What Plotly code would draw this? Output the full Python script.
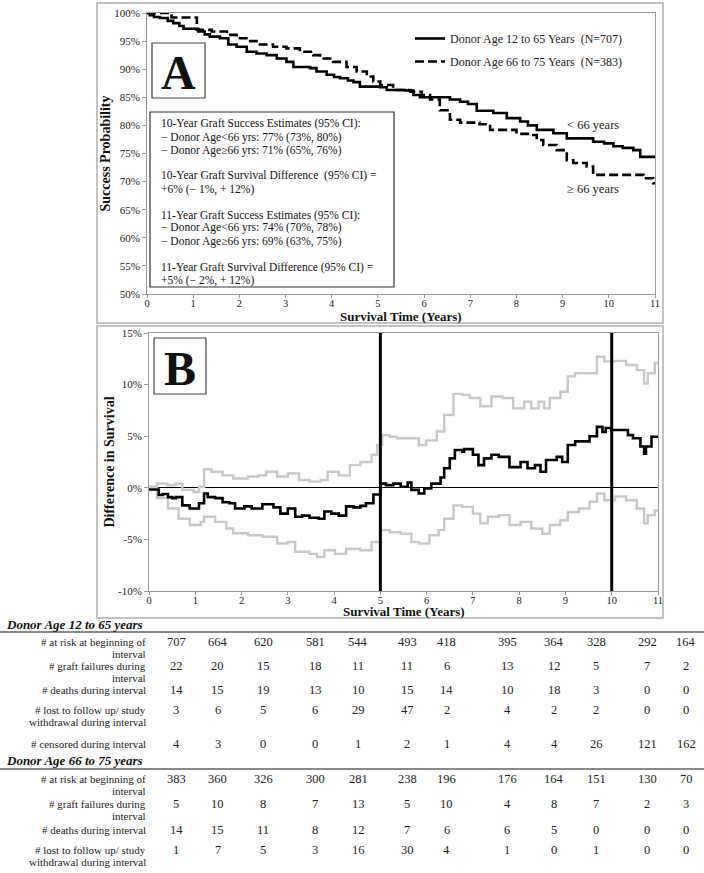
import plotly.graph_objects as go

W, H = 704, 873
SERIF = "Liberation Serif"

# ---------------- Data ----------------
# Panel A: Kaplan-Meier graft success (%), step knots
young_t = [0, 0.06, 0.15, 0.28, 0.45, 0.57, 0.70, 0.79, 1.11, 1.25, 1.36, 1.58, 1.76, 1.94, 2.16,
           2.37, 2.59, 2.81, 3.02, 3.17, 3.53, 3.67, 3.89, 4.05, 4.18, 4.35, 4.47, 4.61, 5.05, 5.19,
           5.59, 5.77, 5.91, 6.56, 6.78, 6.95, 7.14, 7.50, 7.79, 8.08, 8.25, 8.44, 8.80, 9.09, 9.66,
           9.90, 10.10, 10.30, 10.53, 10.68, 11.0]
young_s = [100, 99.6, 99.3, 99.1, 98.6, 98.2, 97.7, 97.2, 96.7, 96.2, 95.8, 95.5, 94.4, 94.0, 93.1,
           92.8, 92.5, 91.9, 91.3, 90.4, 90.2, 89.6, 89.0, 88.6, 88.4, 88.0, 87.7, 86.9, 86.8, 86.3,
           86.2, 85.4, 85.0, 84.6, 84.2, 83.8, 82.6, 82.2, 81.3, 80.7, 80.0, 79.2, 78.6, 77.7, 77.1,
           76.8, 76.3, 76.0, 75.6, 74.4, 74.4]

old_t = [0, 0.53, 1.08, 1.40, 1.73, 1.94, 2.20, 2.37, 2.73, 3.02, 3.31, 3.60, 3.75, 4.03, 4.32,
         4.54, 4.76, 4.90, 5.05, 5.33, 5.70, 5.95, 6.13, 6.34, 6.56, 6.78, 7.20, 7.43, 8.00, 8.29,
         8.44, 8.58, 8.87, 9.09, 9.23, 9.52, 9.66, 10.75, 10.96, 11.0]
old_s = [100, 99.2, 97.0, 96.7, 96.1, 95.5, 95.0, 94.4, 94.0, 93.7, 93.1, 92.5, 91.9, 91.3, 90.4,
         89.6, 88.7, 87.8, 87.2, 86.3, 86.0, 85.4, 84.6, 82.7, 81.0, 80.5, 80.2, 79.2, 78.5, 78.3,
         77.4, 76.5, 75.6, 73.8, 73.3, 72.7, 71.2, 70.6, 69.7, 69.7]

# Panel B: difference in survival (%) and 95% CI
diff_t = [0, 0.13, 0.21, 0.30, 0.41, 0.50, 0.58, 0.72, 0.88, 1.08, 1.19, 1.27, 1.43, 1.59, 1.74,
          1.86, 2.06, 2.22, 2.45, 2.69, 2.84, 3.00, 3.16, 3.31, 3.47, 3.67, 3.79, 3.94, 4.10, 4.26,
          4.42, 4.57, 4.69, 4.85, 5.00, 5.12, 5.28, 5.44, 5.59, 5.67, 5.83, 5.95, 6.10, 6.30, 6.38,
          6.50, 6.61, 6.77, 6.81, 7.00, 7.12, 7.24, 7.40, 7.56, 7.79, 8.03, 8.18, 8.34, 8.46, 8.58,
          8.81, 8.93, 9.05, 9.21, 9.52, 9.68, 9.80, 9.87, 9.99, 10.35, 10.46, 10.62, 10.70, 10.74,
          10.86, 11.0]
diff_v = [-0.16, -0.16, -0.7, -0.6, -0.9, -1.0, -0.9, -1.7, -2.0, -1.5, -0.55, -0.9, -1.0, -1.4, -1.5,
          -2.0, -1.8, -2.0, -1.6, -1.9, -2.5, -2.0, -2.8, -2.7, -2.9, -3.0, -2.3, -2.5, -2.7, -1.8,
          -1.9, -1.75, -1.5, -0.65, 0.4, 0.26, 0.4, 0.1, 0.5, -0.2, -0.55, -0.06, 0.4, 1.0, 1.9,
          2.85, 3.66, 3.5, 3.75, 3.2, 2.2, 2.85, 3.2, 3.0, 2.0, 2.5, 1.9, 2.2, 1.55, 2.7,
          3.0, 2.5, 4.15, 4.5, 5.0, 5.9, 5.4, 5.8, 5.6, 5.1, 4.8, 4.0, 3.3, 4.0,
          4.95, 4.95]

upper_t = [0, 0.17, 0.40, 0.57, 0.72, 0.96, 1.08, 1.19, 1.35, 1.59, 1.82, 2.14, 2.37, 2.53, 2.77,
           3.00, 3.24, 3.47, 3.71, 3.86, 4.10, 4.34, 4.57, 4.81, 4.93, 5.04, 5.20, 5.36, 5.59, 5.83,
           5.99, 6.22, 6.38, 6.58, 6.77, 6.93, 7.16, 7.40, 7.64, 7.87, 8.11, 8.26, 8.42, 8.54, 8.66,
           8.89, 9.05, 9.21, 9.44, 9.68, 9.84, 10.07, 10.31, 10.54, 10.70, 10.78, 10.93, 11.0]
upper_v = [0.1, 0.4, 0.25, 0.4, -0.2, -0.4, 0.1, 1.8, 1.55, 1.2, 0.9, 1.1, 1.2, 1.55, 1.1,
           1.4, 0.75, 0.6, 0.75, 1.55, 1.2, 2.2, 2.5, 3.2, 4.15, 5.1, 4.95, 4.8, 4.8, 4.15,
           4.6, 5.45, 7.05, 9.1, 9.0, 8.7, 7.9, 8.85, 8.7, 7.7, 8.35, 7.7, 8.35, 7.7, 8.7,
           9.3, 10.8, 11.1, 11.1, 12.7, 12.25, 12.3, 11.9, 11.4, 10.1, 11.1, 12.1, 12.1]

lower_t = [0, 0.05, 0.17, 0.41, 0.64, 0.88, 1.12, 1.19, 1.43, 1.67, 1.82, 2.14, 2.45, 2.77, 3.00,
           3.16, 3.47, 3.63, 3.79, 4.02, 4.26, 4.57, 4.81, 5.00, 5.20, 5.44, 5.67, 5.83, 6.06, 6.26,
           6.38, 6.58, 6.77, 7.00, 7.16, 7.32, 7.56, 7.79, 8.03, 8.26, 8.50, 8.66, 8.89, 9.05, 9.29,
           9.52, 9.68, 9.84, 10.07, 10.31, 10.54, 10.70, 10.78, 10.93, 11.0]
lower_v = [-0.2, -0.2, -1.0, -2.0, -3.0, -3.6, -3.3, -2.8, -3.3, -3.95, -4.4, -4.6, -4.75, -5.4, -5.25,
           -6.2, -6.4, -6.7, -6.05, -6.4, -5.9, -6.05, -5.25, -4.1, -4.3, -4.45, -5.25, -5.4, -4.6, -4.1,
           -3.0, -1.7, -1.85, -2.5, -3.45, -2.8, -2.65, -3.6, -3.3, -3.95, -4.45, -3.6, -3.15, -2.35, -2.0,
           -1.35, -0.55, -1.2, -0.85, -1.2, -2.0, -3.45, -2.65, -2.2, -2.2]

years = list(range(0, 12))
a_tick_vals = [50, 55, 60, 65, 70, 75, 80, 85, 90, 95, 100]
a_tick_text = ["50%", "55%", "60%", "65%", "70%", "75%", "80%", "85%", "90%", "95%", "100%"]
b_tick_vals = [-10, -5, 0, 5, 10, 15]
b_tick_text = ["-10%", "-5%", "0%", "5%", "10%", "15%"]
b_marker_years = [5, 10]

x_title = "Survival Time (Years)"
legend_young = "Donor Age 12 to 65 Years\u00a0\u00a0(N=707)"
legend_old = "Donor Age 66 to 75 Years\u00a0\u00a0(N=383)"
label_young = "< 66 years"
label_old = "\u2265 66 years"

box_lines = [
    "10-Year Graft Success Estimates (95% CI):",
    "\u2212 Donor Age<66 yrs: 77% (73%, 80%)",
    "\u2212 Donor Age\u226566 yrs: 71% (65%, 76%)",
    "",
    "10-Year Graft Survival Difference\u00a0 (95% CI) =",
    "+6% (\u2212 1%, + 12%)",
    "",
    "11-Year Graft Success Estimates (95% CI):",
    "\u2212 Donor Age<66 yrs: 74% (70%, 78%)",
    "\u2212 Donor Age\u226566 yrs: 69% (63%, 75%)",
    "",
    "11-Year Graft Survival Difference (95% CI) =",
    "+5% (\u2212 2%, + 12%)",
]

# Table
row_labels = [
    ["# at risk at beginning of", "interval"],
    ["# graft failures during", "interval"],
    ["# deaths during interval"],
    ["# lost to follow up/ study", "withdrawal during interval"],
    ["# censored during interval"],
]
young_table = [
    [707, 664, 620, 581, 544, 493, 418, 395, 364, 328, 292, 164],
    [22, 20, 15, 18, 11, 11, 6, 13, 12, 5, 7, 2],
    [14, 15, 19, 13, 10, 15, 14, 10, 18, 3, 0, 0],
    [3, 6, 5, 6, 29, 47, 2, 4, 2, 2, 0, 0],
    [4, 3, 0, 0, 1, 2, 1, 4, 4, 26, 121, 162],
]
old_table = [
    [383, 360, 326, 300, 281, 238, 196, 176, 164, 151, 130, 70],
    [5, 10, 8, 7, 13, 5, 10, 4, 8, 7, 2, 3],
    [14, 15, 11, 8, 12, 7, 6, 6, 5, 0, 0, 0],
    [1, 7, 5, 3, 16, 30, 4, 1, 0, 1, 0, 0],
]
young_header = "Donor Age 12 to 65 years"
old_header = "Donor Age 66 to 75 years"

# ---------------- Layout helpers ----------------
def px(x):
    return x / W

def py(y):
    return 1 - y / H

col_x = [176, 218, 263, 315, 358, 407, 447, 507, 554, 596, 647, 686]

fig = go.Figure()

fig.add_trace(go.Scatter(x=young_t, y=young_s, mode="lines", line_shape="hv",
                         line=dict(color="black", width=2.6), name=legend_young,
                         xaxis="x", yaxis="y", legendgroup="a"))
fig.add_trace(go.Scatter(x=old_t, y=old_s, mode="lines", line_shape="hv",
                         line=dict(color="black", width=2.6, dash="9px,4px"), name=legend_old,
                         xaxis="x", yaxis="y", legendgroup="b"))

gray = "#c9c9c9"
fig.add_trace(go.Scatter(x=upper_t, y=upper_v, mode="lines", line_shape="hv",
                         line=dict(color=gray, width=2.4), showlegend=False, xaxis="x2", yaxis="y2"))
fig.add_trace(go.Scatter(x=lower_t, y=lower_v, mode="lines", line_shape="hv",
                         line=dict(color=gray, width=2.4), showlegend=False, xaxis="x2", yaxis="y2"))
fig.add_trace(go.Scatter(x=diff_t, y=diff_v, mode="lines", line_shape="hv",
                         line=dict(color="black", width=2.6), showlegend=False, xaxis="x2", yaxis="y2"))

tickfont = dict(family=SERIF, size=11, color="#222")
xtickfont = dict(family=SERIF, size=10.5, color="#222")
titlefont = dict(family=SERIF, size=13, color="#111")
axcol = "#9a9a9a"

common_x = dict(range=[0, 11], tickvals=years, ticks="outside", ticklen=3, tickcolor=axcol,
                showline=True, linecolor=axcol, linewidth=1, mirror=True, showgrid=False,
                zeroline=False, tickfont=xtickfont, automargin=False, ticklabelstandoff=-4)

fig.update_layout(
    width=W, height=H, margin=dict(l=0, r=0, t=0, b=0),
    paper_bgcolor="white", plot_bgcolor="white",
    xaxis=dict(domain=[px(147), px(655)], anchor="y", **common_x),
    yaxis=dict(domain=[py(294), py(13)], anchor="x", range=[50, 100],
               tickvals=a_tick_vals, ticktext=a_tick_text, ticks="outside", ticklen=4,
               tickcolor=axcol, showline=True, linecolor=axcol, mirror=True, showgrid=False,
               zeroline=False, tickfont=tickfont, automargin=False,
               title=dict(text="<b>Success Probability</b>", font=dict(family=SERIF, size=14, color="#111"), standoff=0)),
    xaxis2=dict(domain=[px(149), px(658)], anchor="y2", **common_x),
    yaxis2=dict(domain=[py(591), py(333)], anchor="x2", range=[-10, 15],
                tickvals=b_tick_vals, ticktext=b_tick_text, ticks="outside", ticklen=4,
                tickcolor=axcol, showline=True, linecolor=axcol, mirror=True, showgrid=False,
                zeroline=True, zerolinecolor="black", zerolinewidth=1,
                tickfont=tickfont, automargin=False,
                title=dict(text="<b>Difference in Survival</b>", font=dict(family=SERIF, size=14, color="#111"), standoff=0)),
    legend=dict(x=px(410), y=py(24), xanchor="left", yanchor="top", bgcolor="rgba(0,0,0,0)",
                font=dict(family=SERIF, size=12, color="#222"), tracegroupgap=4,
                itemwidth=30),
    showlegend=True,
)

shapes = []
# panel frames
shapes.append(dict(type="rect", xref="paper", yref="paper", x0=px(97), x1=px(663), y0=py(323), y1=py(3),
                   line=dict(color="#b0b0b0", width=1.5)))
shapes.append(dict(type="rect", xref="paper", yref="paper", x0=px(97), x1=px(663), y0=py(618), y1=py(326),
                   line=dict(color="#b0b0b0", width=1.5)))
# letter boxes
shapes.append(dict(type="rect", xref="paper", yref="paper", x0=px(152), x1=px(205), y0=py(98), y1=py(43),
                   line=dict(color="#444", width=1.2)))
shapes.append(dict(type="rect", xref="paper", yref="paper", x0=px(154), x1=px(206), y0=py(394), y1=py(338),
                   line=dict(color="#444", width=1.2)))
# text box
shapes.append(dict(type="rect", xref="paper", yref="paper", x0=px(150), x1=px(394), y0=py(287), y1=py(112),
                   line=dict(color="#333", width=1.2), fillcolor="white", layer="above"))
# vertical marker lines in B
for yr in b_marker_years:
    shapes.append(dict(type="line", xref="x2", yref="y2 domain", x0=yr, x1=yr, y0=0, y1=1,
                       line=dict(color="black", width=3)))
# table rules
shapes.append(dict(type="line", xref="paper", yref="paper", x0=0, x1=1, y0=py(632), y1=py(632),
                   line=dict(color="#888", width=2)))
shapes.append(dict(type="line", xref="paper", yref="paper", x0=0, x1=1, y0=py(769), y1=py(769),
                   line=dict(color="#888", width=2)))

ann = []
# x-axis titles
ann.append(dict(text="<b>" + x_title + "</b>", x=px(401), y=py(316.5), xref="paper", yref="paper",
                showarrow=False, xanchor="center", yanchor="middle", font=titlefont))
ann.append(dict(text="<b>" + x_title + "</b>", x=px(403.5), y=py(611), xref="paper", yref="paper",
                showarrow=False, xanchor="center", yanchor="middle", font=titlefont))
ann.append(dict(text="<b>A</b>", x=px(178.5), y=py(72), xref="paper", yref="paper", showarrow=False,
                font=dict(family=SERIF, size=48, color="#111"), xanchor="center", yanchor="middle"))
ann.append(dict(text="<b>B</b>", x=px(180), y=py(368), xref="paper", yref="paper", showarrow=False,
                font=dict(family=SERIF, size=48, color="#111"), xanchor="center", yanchor="middle"))
for i, line in enumerate(box_lines):
    if line:
        ann.append(dict(text=line, x=px(159), y=py(124 + 13 * i), xref="paper", yref="paper",
                        showarrow=False, xanchor="left", yanchor="middle",
                        font=dict(family=SERIF, size=11.5, color="#111")))
ann.append(dict(text=label_young, x=px(621), y=py(125), xref="paper", yref="paper", showarrow=False,
                xanchor="right", yanchor="middle", font=dict(family=SERIF, size=12.5, color="#222")))
ann.append(dict(text=label_old, x=px(621), y=py(189), xref="paper", yref="paper", showarrow=False,
                xanchor="right", yanchor="middle", font=dict(family=SERIF, size=12.5, color="#222")))

# table
lab_font = dict(family=SERIF, size=11, color="#222")
num_font = dict(family=SERIF, size=12.5, color="#222")
hdr_font = dict(family=SERIF, size=13, color="#111")

def add_block(header, header_y, rows, row_ys):
    ann.append(dict(text="<b><i>" + header + "</i></b>", x=px(4), y=py(header_y), xref="paper",
                    yref="paper", showarrow=False, xanchor="left", yanchor="middle", font=hdr_font))
    for r, vals in enumerate(rows):
        y0 = row_ys[r]
        for k, t in enumerate(row_labels[r]):
            ann.append(dict(text=t, x=px(148), y=py(y0 + 12 * k), xref="paper", yref="paper",
                            showarrow=False, xanchor="right", yanchor="middle", font=lab_font))
        for c, v in enumerate(vals):
            ann.append(dict(text=str(v), x=px(col_x[c]), y=py(y0), xref="paper", yref="paper",
                            showarrow=False, xanchor="center", yanchor="middle", font=num_font))

add_block(young_header, 624, young_table, [642, 666, 690, 710, 744])
add_block(old_header, 760, old_table, [779, 804, 830, 850])

fig.update_layout(shapes=shapes, annotations=ann)
fig.write_html("out.html", config={"displayModeBar": False},
               post_script="document.body.style.margin='0';document.body.style.padding='0';")
